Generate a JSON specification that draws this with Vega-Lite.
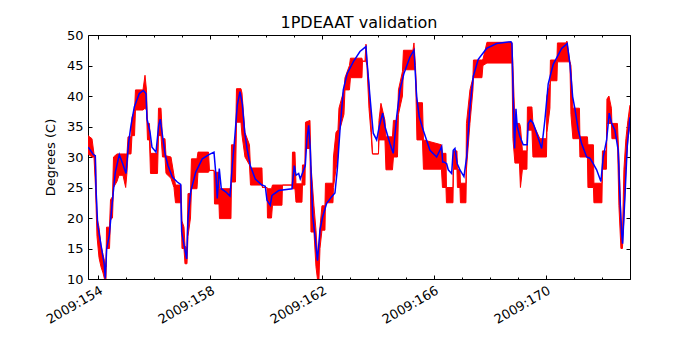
{
"$schema": "https://vega.github.io/schema/vega-lite/v6.json",
"width": 542, "height": 244,
"autosize": {"type": "none"},
"padding": {"left": 88, "top": 35, "right": 70, "bottom": 71},
"background": "white",
"title": {"text": "1PDEAAT validation", "fontSize": 16, "font": "DejaVu Sans", "fontWeight": "normal", "color": "black", "offset": -2, "anchor": "middle"},
"config": {
  "view": {"stroke": "black", "strokeWidth": 1},
  "axis": {"domain": false, "grid": false, "labelFont": "DejaVu Sans", "labelFontSize": 13, "labelColor": "black", "tickColor": "black", "tickWidth": 1, "titleFont": "DejaVu Sans", "titleFontSize": 13, "titleFontWeight": "normal", "titleColor": "black", "labelFlush": false, "labelOverlap": false, "labelBound": false}
},
"datasets": {
"red": [
{"t":153.640,"lo":30.5,"hi":33.5},{"t":153.783,"lo":30,"hi":33},{"t":153.854,"lo":30,"hi":30.5},{"t":153.908,"lo":25,"hi":30},{"t":153.961,"lo":17,"hi":20},{"t":154.033,"lo":13.5,"hi":18.5},{"t":154.104,"lo":12,"hi":15.5},{"t":154.176,"lo":11,"hi":14},{"t":154.229,"lo":10,"hi":13},{"t":154.283,"lo":10,"hi":12},{"t":154.301,"lo":15,"hi":18.5},{"t":154.408,"lo":15,"hi":18.5},{"t":154.444,"lo":19.7,"hi":23},{"t":154.515,"lo":20,"hi":23.5},{"t":154.551,"lo":25,"hi":30},{"t":154.676,"lo":26,"hi":30.5},{"t":154.747,"lo":27,"hi":30.5},{"t":154.890,"lo":27,"hi":30.5},{"t":154.986,"lo":25,"hi":30.5},{"t":155.033,"lo":27.5,"hi":30.5},{"t":155.069,"lo":30.5,"hi":33.3},{"t":155.176,"lo":30.5,"hi":33.3},{"t":155.211,"lo":33.5,"hi":36.5},{"t":155.301,"lo":33.5,"hi":37.5},{"t":155.336,"lo":37.7,"hi":41},{"t":155.604,"lo":37.7,"hi":41},{"t":155.676,"lo":38,"hi":43.4},{"t":155.729,"lo":37.7,"hi":41},{"t":155.765,"lo":32.8,"hi":35.5},{"t":155.836,"lo":32.8,"hi":35.5},{"t":155.872,"lo":27.3,"hi":30.6},{"t":156.122,"lo":27.3,"hi":30.6},{"t":156.158,"lo":33.5,"hi":38},{"t":156.247,"lo":33.5,"hi":38},{"t":156.301,"lo":30,"hi":33},{"t":156.390,"lo":30,"hi":33},{"t":156.426,"lo":27.3,"hi":30.2},{"t":156.604,"lo":26.5,"hi":30},{"t":156.711,"lo":25,"hi":27},{"t":156.765,"lo":22.5,"hi":25.4},{"t":156.961,"lo":22.5,"hi":25.4},{"t":156.997,"lo":15,"hi":19.5},{"t":157.069,"lo":15,"hi":18.5},{"t":157.104,"lo":12.5,"hi":15.5},{"t":157.176,"lo":12.5,"hi":15},{"t":157.211,"lo":17,"hi":24},{"t":157.301,"lo":20,"hi":24},{"t":157.336,"lo":24.8,"hi":29.7},{"t":157.533,"lo":24.8,"hi":29.7},{"t":157.569,"lo":27.5,"hi":30.8},{"t":157.944,"lo":27.5,"hi":30.8},{"t":157.979,"lo":27.8,"hi":27.8},{"t":158.140,"lo":27.8,"hi":27.8},{"t":158.158,"lo":22.3,"hi":27.5},{"t":158.319,"lo":22.3,"hi":27.5},{"t":158.336,"lo":19.9,"hi":24.8},{"t":158.747,"lo":19.9,"hi":24.8},{"t":158.765,"lo":25.9,"hi":32},{"t":158.908,"lo":25.9,"hi":32},{"t":158.944,"lo":35.7,"hi":41.2},{"t":159.104,"lo":35.7,"hi":41.2},{"t":159.140,"lo":33.6,"hi":40.5},{"t":159.247,"lo":30,"hi":34},{"t":159.408,"lo":28.7,"hi":32},{"t":159.444,"lo":25.4,"hi":28.2},{"t":159.854,"lo":25.4,"hi":28.2},{"t":159.872,"lo":25,"hi":25},{"t":160.033,"lo":25,"hi":25},{"t":160.051,"lo":20,"hi":24.8},{"t":160.194,"lo":20,"hi":24.8},{"t":160.229,"lo":22.1,"hi":25.4},{"t":160.569,"lo":22.1,"hi":25.4},{"t":160.586,"lo":25.4,"hi":25.4},{"t":160.926,"lo":25.4,"hi":25.4},{"t":160.944,"lo":24.8,"hi":30.8},{"t":161.033,"lo":24.8,"hi":30.8},{"t":161.069,"lo":22.6,"hi":25.6},{"t":161.283,"lo":22.6,"hi":25.6},{"t":161.301,"lo":25.4,"hi":28.7},{"t":161.390,"lo":25.4,"hi":28.7},{"t":161.408,"lo":31.4,"hi":35.7},{"t":161.569,"lo":31.4,"hi":36},{"t":161.604,"lo":17.7,"hi":28.7},{"t":161.711,"lo":17.7,"hi":22},{"t":161.783,"lo":12,"hi":18},{"t":161.836,"lo":10,"hi":14},{"t":161.890,"lo":10,"hi":15},{"t":161.926,"lo":15,"hi":18.5},{"t":161.997,"lo":18,"hi":22},{"t":162.104,"lo":18,"hi":22},{"t":162.122,"lo":22.5,"hi":25.7},{"t":162.390,"lo":22.5,"hi":25.7},{"t":162.408,"lo":25,"hi":30},{"t":162.497,"lo":28,"hi":34},{"t":162.569,"lo":30,"hi":34.5},{"t":162.604,"lo":34,"hi":38},{"t":162.783,"lo":37,"hi":41},{"t":162.819,"lo":41,"hi":43},{"t":162.979,"lo":41,"hi":45},{"t":163.015,"lo":43,"hi":46.2},{"t":163.426,"lo":43,"hi":46.2},{"t":163.444,"lo":45.7,"hi":45.7},{"t":163.533,"lo":45.7,"hi":45.7},{"t":163.569,"lo":45.7,"hi":48.5},{"t":163.604,"lo":45,"hi":45.7},{"t":163.676,"lo":38,"hi":42},{"t":163.747,"lo":34,"hi":36},{"t":163.801,"lo":30.5,"hi":30.5},{"t":164.015,"lo":30.5,"hi":30.5},{"t":164.033,"lo":32.8,"hi":36},{"t":164.104,"lo":32.8,"hi":38.8},{"t":164.247,"lo":32.8,"hi":36},{"t":164.283,"lo":27.9,"hi":33.3},{"t":164.515,"lo":27.9,"hi":33.3},{"t":164.551,"lo":30,"hi":36},{"t":164.694,"lo":30,"hi":36},{"t":164.729,"lo":37,"hi":41},{"t":164.872,"lo":40,"hi":44},{"t":164.908,"lo":44.3,"hi":47.5},{"t":165.247,"lo":44.3,"hi":47.5},{"t":165.283,"lo":44.3,"hi":48.7},{"t":165.336,"lo":44.3,"hi":45},{"t":165.390,"lo":32.8,"hi":38.9},{"t":165.586,"lo":32.8,"hi":38.9},{"t":165.622,"lo":28,"hi":32.8},{"t":166.265,"lo":28,"hi":32},{"t":166.301,"lo":25,"hi":30.6},{"t":166.426,"lo":25,"hi":30.6},{"t":166.444,"lo":22.5,"hi":25},{"t":166.676,"lo":22.5,"hi":25},{"t":166.694,"lo":28,"hi":31},{"t":166.819,"lo":28,"hi":31},{"t":166.836,"lo":25,"hi":28},{"t":166.926,"lo":25,"hi":28},{"t":166.944,"lo":22.5,"hi":25.7},{"t":167.140,"lo":22.5,"hi":25.7},{"t":167.158,"lo":28,"hi":35.5},{"t":167.283,"lo":35.5,"hi":41},{"t":167.390,"lo":41,"hi":43},{"t":167.408,"lo":43,"hi":45.9},{"t":167.711,"lo":43,"hi":45.9},{"t":167.747,"lo":45,"hi":46},{"t":167.890,"lo":45.4,"hi":48.8},{"t":168.783,"lo":45.4,"hi":48.8},{"t":168.819,"lo":33,"hi":45},{"t":168.890,"lo":29,"hi":35.5},{"t":169.051,"lo":29,"hi":35.5},{"t":169.086,"lo":25,"hi":35},{"t":169.158,"lo":28,"hi":31},{"t":169.319,"lo":28,"hi":31},{"t":169.336,"lo":34.4,"hi":38.2},{"t":169.497,"lo":34.4,"hi":38.2},{"t":169.533,"lo":30,"hi":35.5},{"t":169.783,"lo":30,"hi":33},{"t":170.015,"lo":30,"hi":33},{"t":170.033,"lo":34,"hi":40},{"t":170.140,"lo":38,"hi":42},{"t":170.158,"lo":42.5,"hi":45.9},{"t":170.390,"lo":42.5,"hi":45.9},{"t":170.408,"lo":45.6,"hi":48.7},{"t":170.711,"lo":45.6,"hi":48.7},{"t":170.747,"lo":45.6,"hi":49},{"t":170.854,"lo":45.6,"hi":45.6},{"t":170.890,"lo":37,"hi":45},{"t":170.961,"lo":33,"hi":38},{"t":171.194,"lo":33,"hi":38},{"t":171.211,"lo":30,"hi":33.3},{"t":171.479,"lo":30,"hi":33.3},{"t":171.497,"lo":25,"hi":32},{"t":171.694,"lo":25,"hi":32},{"t":171.711,"lo":22.5,"hi":25.7},{"t":171.997,"lo":22.5,"hi":25.7},{"t":172.015,"lo":28,"hi":31},{"t":172.158,"lo":28,"hi":31},{"t":172.176,"lo":35.5,"hi":39.5},{"t":172.247,"lo":35.5,"hi":40},{"t":172.336,"lo":35.5,"hi":38},{"t":172.354,"lo":33,"hi":35.5},{"t":172.551,"lo":33,"hi":35.5},{"t":172.604,"lo":22,"hi":30},{"t":172.676,"lo":15,"hi":20},{"t":172.729,"lo":15,"hi":17},{"t":172.783,"lo":20,"hi":28},{"t":172.854,"lo":28,"hi":33},{"t":172.926,"lo":33,"hi":36},{"t":172.997,"lo":35,"hi":38.5}
],
"blue": [
{"t":153.651,"v":31.6},{"t":153.829,"v":30.4},{"t":153.901,"v":30.2},{"t":153.926,"v":24.8},{"t":153.986,"v":18.9},{"t":154.104,"v":15.6},{"t":154.222,"v":12.3},{"t":154.258,"v":10.1},{"t":154.308,"v":15},{"t":154.401,"v":17.2},{"t":154.497,"v":22.1},{"t":154.615,"v":27.5},{"t":154.758,"v":30.4},{"t":154.879,"v":28.9},{"t":154.997,"v":27.3},{"t":155.094,"v":32.5},{"t":155.176,"v":35.2},{"t":155.294,"v":38.2},{"t":155.472,"v":40.4},{"t":155.615,"v":40.9},{"t":155.711,"v":40.4},{"t":155.747,"v":36.3},{"t":155.854,"v":34.1},{"t":155.926,"v":31.6},{"t":156.069,"v":30.8},{"t":156.165,"v":35.2},{"t":156.222,"v":36.2},{"t":156.283,"v":34.1},{"t":156.401,"v":30.3},{"t":156.497,"v":28.6},{"t":156.651,"v":26.7},{"t":156.829,"v":25.9},{"t":156.951,"v":25.5},{"t":156.986,"v":17.7},{"t":157.094,"v":15.0},{"t":157.165,"v":13.3},{"t":157.211,"v":19.9},{"t":157.308,"v":24.3},{"t":157.486,"v":27.5},{"t":157.722,"v":29.7},{"t":157.961,"v":30.4},{"t":158.140,"v":30.8},{"t":158.201,"v":27.5},{"t":158.258,"v":23.2},{"t":158.329,"v":28.1},{"t":158.401,"v":24.8},{"t":158.558,"v":24.3},{"t":158.711,"v":23.6},{"t":158.794,"v":28.6},{"t":158.879,"v":33.0},{"t":158.972,"v":38.5},{"t":159.069,"v":40.7},{"t":159.151,"v":38.7},{"t":159.236,"v":34.1},{"t":159.319,"v":31.4},{"t":159.436,"v":28.6},{"t":159.615,"v":26.4},{"t":159.854,"v":25.4},{"t":159.972,"v":25.2},{"t":160.033,"v":22.9},{"t":160.151,"v":22.1},{"t":160.211,"v":23.7},{"t":160.451,"v":24.5},{"t":160.926,"v":24.8},{"t":160.961,"v":26.4},{"t":161.008,"v":28.6},{"t":161.069,"v":27.0},{"t":161.165,"v":27.3},{"t":161.222,"v":26.4},{"t":161.401,"v":28.6},{"t":161.461,"v":33.0},{"t":161.522,"v":35.2},{"t":161.579,"v":31.4},{"t":161.665,"v":20.4},{"t":161.758,"v":16.6},{"t":161.836,"v":13.0},{"t":161.926,"v":18},{"t":162.022,"v":20.2},{"t":162.165,"v":22.4},{"t":162.344,"v":23.5},{"t":162.461,"v":24.1},{"t":162.544,"v":27.9},{"t":162.640,"v":34.4},{"t":162.758,"v":41},{"t":162.901,"v":43.7},{"t":163.115,"v":45.6},{"t":163.354,"v":47.3},{"t":163.569,"v":48.1},{"t":163.615,"v":45.2},{"t":163.711,"v":39.9},{"t":163.829,"v":33.9},{"t":163.951,"v":32.8},{"t":164.044,"v":35.0},{"t":164.165,"v":37.2},{"t":164.247,"v":35.0},{"t":164.426,"v":32.2},{"t":164.544,"v":30.6},{"t":164.665,"v":36.6},{"t":164.783,"v":41},{"t":164.926,"v":43.7},{"t":165.140,"v":46.4},{"t":165.283,"v":47.5},{"t":165.379,"v":39.9},{"t":165.472,"v":36.6},{"t":165.615,"v":34.4},{"t":165.854,"v":31.1},{"t":166.094,"v":30.0},{"t":166.272,"v":31.7},{"t":166.308,"v":29.2},{"t":166.354,"v":29.2},{"t":166.451,"v":28.9},{"t":166.508,"v":27.9},{"t":166.629,"v":27.3},{"t":166.686,"v":31.1},{"t":166.747,"v":31.4},{"t":166.829,"v":28.9},{"t":166.926,"v":27.9},{"t":167.069,"v":26.8},{"t":167.165,"v":30.0},{"t":167.283,"v":38.2},{"t":167.401,"v":43.2},{"t":167.579,"v":46.0},{"t":167.879,"v":47.8},{"t":168.236,"v":48.6},{"t":168.747,"v":48.9},{"t":168.783,"v":48.6},{"t":168.829,"v":39.9},{"t":168.879,"v":31.4},{"t":168.926,"v":37.9},{"t":168.972,"v":35.0},{"t":169.069,"v":33.3},{"t":169.186,"v":32.0},{"t":169.329,"v":32.0},{"t":169.365,"v":35.5},{"t":169.451,"v":36.1},{"t":169.544,"v":35.5},{"t":169.665,"v":33.9},{"t":169.844,"v":31.4},{"t":169.961,"v":36.1},{"t":170.079,"v":42.0},{"t":170.258,"v":45.2},{"t":170.558,"v":47.8},{"t":170.758,"v":48.6},{"t":170.854,"v":45.2},{"t":170.951,"v":39.9},{"t":171.033,"v":37.9},{"t":171.151,"v":34.4},{"t":171.272,"v":32.2},{"t":171.451,"v":30.0},{"t":171.569,"v":29.8},{"t":171.686,"v":28.9},{"t":171.808,"v":27.9},{"t":171.961,"v":26.0},{"t":172.044,"v":30},{"t":172.165,"v":32.8},{"t":172.258,"v":37.2},{"t":172.344,"v":35.5},{"t":172.461,"v":34.4},{"t":172.579,"v":31.1},{"t":172.640,"v":23.5},{"t":172.701,"v":17.5},{"t":172.736,"v":15.8},{"t":172.819,"v":23.5},{"t":172.901,"v":31.7},{"t":172.997,"v":36.5}
]
},
"layer": [
{
  "data": {"name": "red"},
  "mark": {"type": "area", "color": "#ff0000", "clip": true},
  "encoding": {
    "x": {"field": "t", "type": "quantitative", "scale": {"domain": [153.64, 173.0], "nice": false, "zero": false},
      "axis": {"orient": "bottom", "values": [154, 158, 162, 166, 170], "tickSize": -4, "labelAngle": -30, "labelAlign": "right", "labelBaseline": "top", "labelPadding": 9, "labelExpr": "'2009:' + datum.value", "title": null}},
    "y": {"field": "lo", "type": "quantitative", "scale": {"domain": [10, 50], "nice": false, "zero": false},
      "axis": {"orient": "left", "values": [10, 15, 20, 25, 30, 35, 40, 45, 50], "tickSize": -4, "labelPadding": 9, "title": "Degrees (C)", "titlePadding": 9}},
    "y2": {"field": "hi"}
  }
},
{
  "data": {"name": "red"},
  "mark": {"type": "line", "color": "#ff0000", "strokeWidth": 1, "clip": true},
  "encoding": {
    "x": {"field": "t", "type": "quantitative", "axis": {"orient": "top", "values": [154, 158, 162, 166, 170], "tickSize": -4, "labels": false, "title": null}},
    "y": {"field": "lo", "type": "quantitative", "axis": {"orient": "right", "values": [10, 15, 20, 25, 30, 35, 40, 45, 50], "tickSize": -4, "labels": false, "title": null}}
  }
},
{
  "data": {"name": "red"},
  "mark": {"type": "line", "color": "#ff0000", "strokeWidth": 1, "clip": true},
  "encoding": {
    "x": {"field": "t", "type": "quantitative", "axis": {"orient": "bottom", "values": [154,155,156,157,158,159,160,161,162,163,164,165,166,167,168,169,170,171,172,173], "tickSize": -2, "labels": false, "title": null}},
    "y": {"field": "hi", "type": "quantitative", "axis": null}
  }
},
{
  "data": {"name": "blue"},
  "mark": {"type": "line", "color": "#0000ff", "strokeWidth": 1.5, "clip": true},
  "encoding": {
    "x": {"field": "t", "type": "quantitative", "axis": {"orient": "top", "values": [154,155,156,157,158,159,160,161,162,163,164,165,166,167,168,169,170,171,172,173], "tickSize": -2, "labels": false, "title": null}},
    "y": {"field": "v", "type": "quantitative", "axis": null}
  }
}
],
"resolve": {"axis": {"x": "independent", "y": "independent"}}
}
